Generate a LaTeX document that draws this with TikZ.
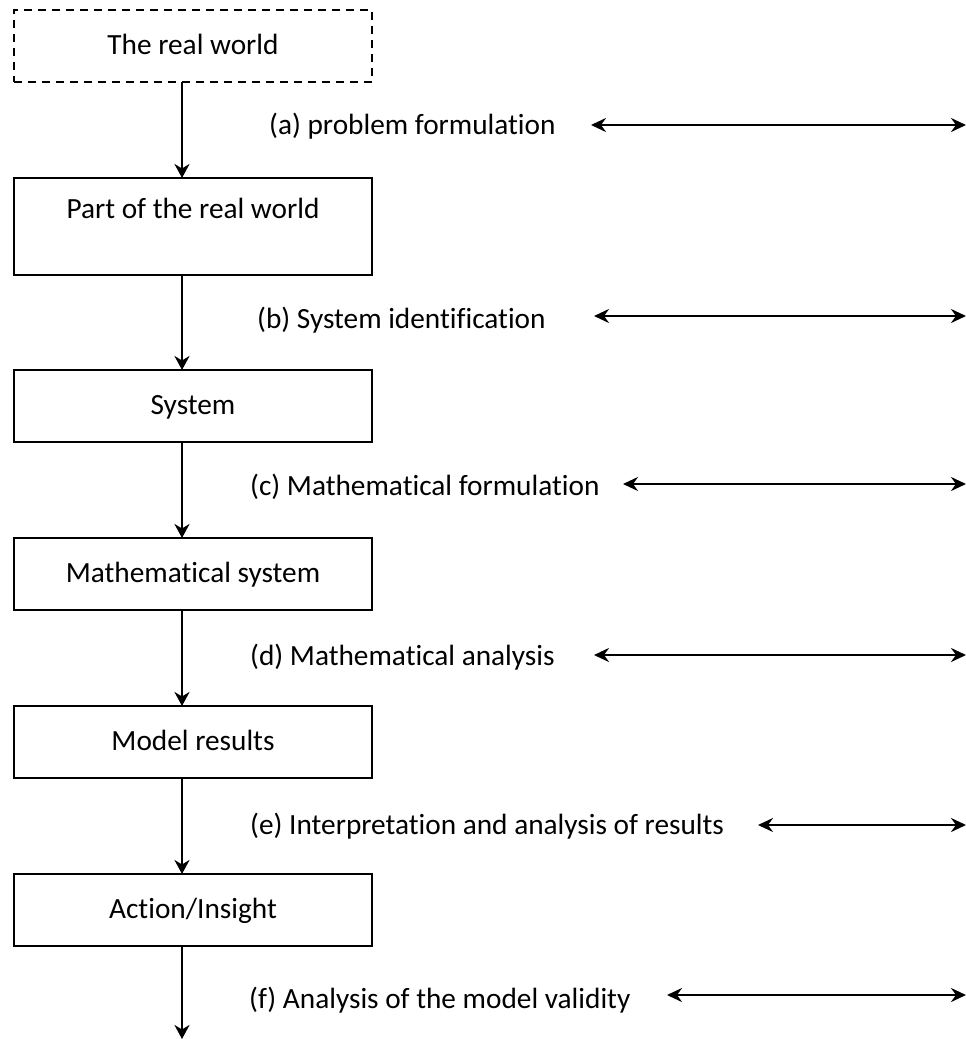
\documentclass[tikz,border=0pt]{standalone}
\usepackage{fontspec}
\setmainfont[Ligatures={NoCommon}]{Carlito}
\usetikzlibrary{arrows.meta}
\begin{document}
\begin{tikzpicture}[x=1pt,y=-1pt,
  font=\fontsize{29.3}{35}\selectfont,
  stagebox/.style={draw=black, line width=2.7pt, minimum width=358pt, minimum height=72pt,
    inner sep=0pt, outer sep=0pt, text height=20.5pt, text depth=2.9pt, anchor=north west},
  realbox/.style={stagebox, dash pattern=on 8pt off 6pt},
  flow/.style={line width=2.5pt, -{Stealth[length=14pt,width=15pt,inset=4.5pt]}},
  side/.style={line width=2.6pt, {Stealth[length=15pt,width=14pt,inset=5pt]}-{Stealth[length=15pt,width=14pt,inset=5pt]}},
  steplabel/.style={anchor=base west, inner sep=0pt}
]
\useasboundingbox (0,0) rectangle (966,1039);

% boxes
\node[realbox] (b1) at (14,10) {The real world};
\node[stagebox, minimum height=97pt, text depth=37.5pt] (b2) at (14,178) {Part of the real world};
\node[stagebox] (b3) at (14,370) {System};
\node[stagebox] (b4) at (14,538) {Mathematical system};
\node[stagebox] (b5) at (14,706) {Model results};
\node[stagebox] (b6) at (14,874) {Action/Insight};
\coordinate (end) at (182,1039);

% vertical flow
\draw[flow] (b1.south -| end) -- (b2.north -| end);
\draw[flow] (b2.south -| end) -- (b3.north -| end);
\draw[flow] (b3.south -| end) -- (b4.north -| end);
\draw[flow] (b4.south -| end) -- (b5.north -| end);
\draw[flow] (b5.south -| end) -- (b6.north -| end);
\draw[flow] (b6.south -| end) -- (end);

% labels
\node[steplabel] (la) at (269,134) {(a) problem formulation};
\node[steplabel] (lb) at (257,328) {(b) System identification};
\node[steplabel] (lc) at (250,495) {(c) Mathematical formulation};
\node[steplabel] (ld) at (250,665) {(d) Mathematical analysis};
\node[steplabel] (le) at (250,834) {(e) Interpretation and analysis of results};
\node[steplabel] (lf) at (249,1008) {(f) Analysis of the model validity};

% side arrows
\coordinate (aL) at (591,125); \coordinate (aR) at (966,125);
\coordinate (bL) at (594,316); \coordinate (bR) at (966,316);
\coordinate (cL) at (623,484); \coordinate (cR) at (966,484);
\coordinate (dL) at (594,655); \coordinate (dR) at (966,655);
\coordinate (eL) at (758,825); \coordinate (eR) at (966,825);
\coordinate (fL) at (667,995); \coordinate (fR) at (966,995);
\draw[side] (aL) -- (aR);
\draw[side] (bL) -- (bR);
\draw[side] (cL) -- (cR);
\draw[side] (dL) -- (dR);
\draw[side] (eL) -- (eR);
\draw[side] (fL) -- (fR);
\end{tikzpicture}
\end{document}
